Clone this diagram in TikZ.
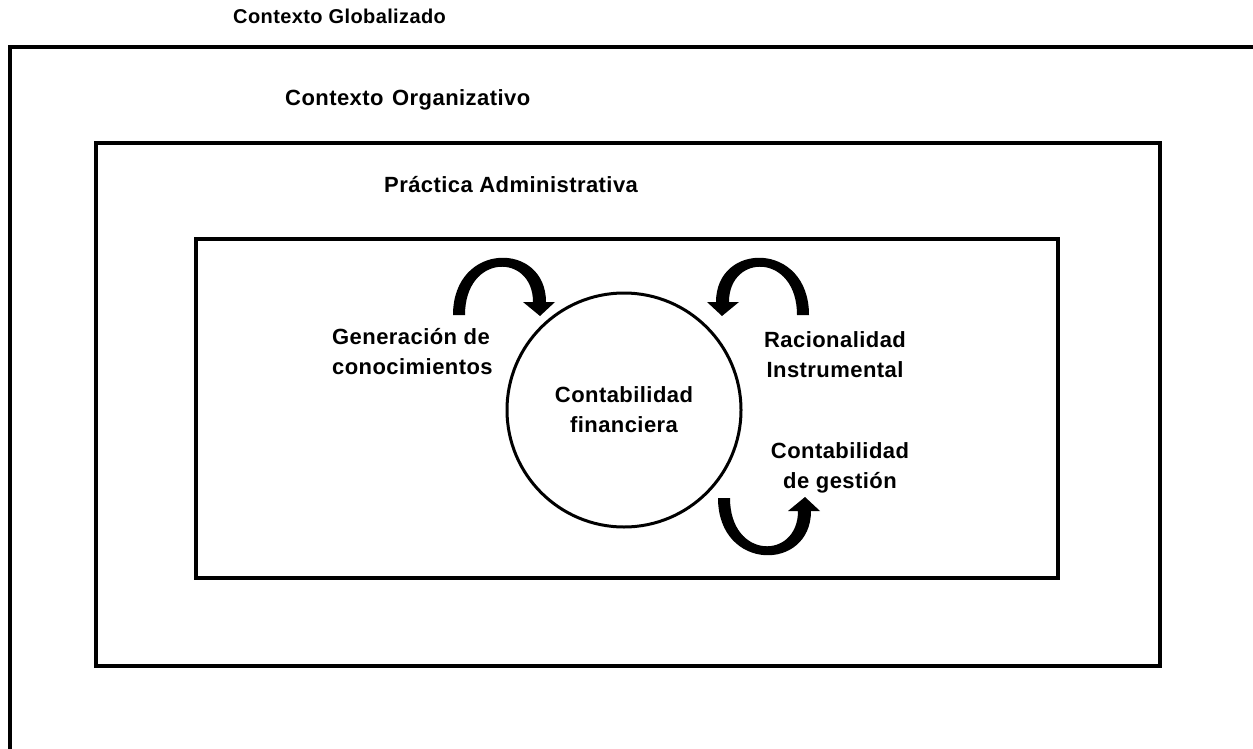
\documentclass[tikz,border=0pt]{standalone}
\usepackage{fontspec}
\setmainfont{Liberation Sans}[LetterSpace=2]
\usetikzlibrary{positioning}

\begin{document}
\begin{tikzpicture}[
  x=1pt, y=-1pt,
  font=\fontsize{22}{30}\selectfont\bfseries,
  frame/.style={draw, line width=4pt, inner sep=0pt},
  lbl/.style={inner sep=0pt},
  bentarrow/.pic={
    \fill (-6,0) .. controls (-6,-74) and (87,-74) .. (87,-13)
          -- (96,-13) -- (81,1) -- (64,-13) -- (74,-13)
          .. controls (74,-62) and (6,-62) .. (6,0) -- cycle;
  },
]
  % --- fixed page size ---
  \useasboundingbox (0,0) rectangle (1253,749);

  % --- frames ---
  \draw[line width=4pt] (10,749) |- (1253,47);
  \node[frame, minimum width=1064pt, minimum height=523pt] (org) at (628,404.5) {};
  \node[frame, minimum width=862pt, minimum height=339pt] (adm) at (627,408.5) {};

  % --- frame titles ---
  \node[lbl, anchor=base west, font=\fontsize{20}{30}\selectfont\bfseries] (tglob) at (233,24) {Contexto Globalizado};
  \node[lbl, anchor=base west] (torg) at (285,106) {Contexto\hspace{2pt} Organizativo};
  \node[lbl, anchor=base west] (tadm) at (384,192) {Práctica Administrativa};

  % --- centre ---
  \node[draw, circle, line width=3pt, minimum size=234pt, align=center] (fin)
    at (624,410) {Contabilidad\\financiera};

  % --- surrounding labels ---
  \node[lbl, anchor=west, align=left] (gen) at (332,352) {Generación de\\conocimientos};
  \node[lbl, align=center] (rac) at (835,355) {Racionalidad\\Instrumental};
  \node[lbl, align=center] (ges) at (840,468) {Contabilidad\\de gestión};

  % --- curved arrows ---
  \pic at (459,315) {bentarrow};
  \pic[xscale=-1] at (803,315) {bentarrow};
  \pic[yscale=-1] at (724,498) {bentarrow};
\end{tikzpicture}
\end{document}
